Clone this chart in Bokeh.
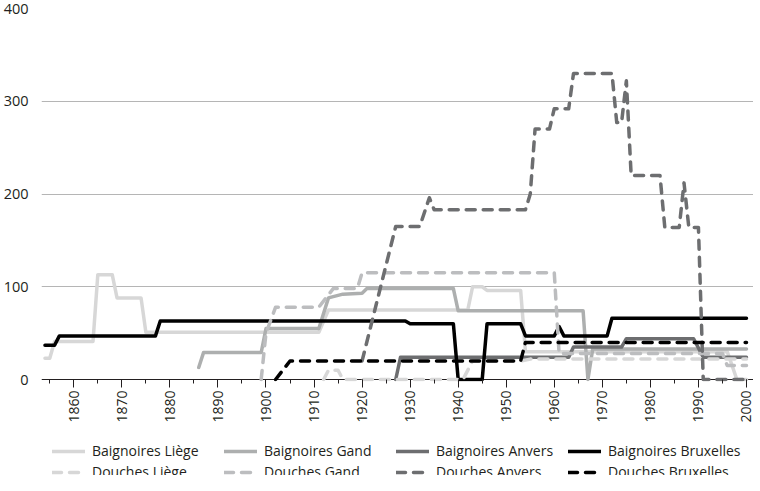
import math
from bokeh.plotting import figure
from bokeh.layouts import column
from bokeh.models import Legend, LegendItem, FixedTicker, Span, Range1d
from bokeh.embed import file_html
from bokeh.resources import INLINE

# ---------------- data (year, value) breakpoints ----------------
bl_year = [1854, 1855, 1856, 1864, 1865, 1868, 1869, 1874, 1875, 1911, 1913, 1942, 1943, 1945, 1946, 1953, 1954, 1996, 1998, 2000]
bl_val  = [23, 23, 41, 41, 113, 113, 88, 88, 51, 51, 75, 75, 100, 100, 96, 96, 30, 30, 0, 0]

bg_year = [1886, 1887, 1899, 1900, 1911, 1913, 1916, 1920, 1921, 1939, 1940, 1966, 1967, 1968, 2000]
bg_val  = [13, 29, 29, 55, 55, 88, 92, 93, 98, 98, 74, 74, 0, 33, 33]

ba_year = [1927, 1928, 1963, 1964, 1974, 1975, 1989, 1991, 2000]
ba_val  = [0, 24, 24, 35, 35, 44, 44, 24, 24]

bb_year = [1854, 1856, 1857, 1877, 1878, 1929, 1930, 1939, 1940, 1945, 1946, 1953, 1954, 1960, 1961, 1962, 1971, 1972, 2000]
bb_val  = [37, 37, 47, 47, 63, 63, 60, 60, 0, 0, 60, 60, 47, 47, 57, 47, 47, 66, 66]

dl_year = [1912, 1913, 1915, 1916, 1941, 1943, 1953, 1955, 2000]
dl_val  = [0, 10, 10, 0, 0, 20, 20, 22, 22]

dg_year = [1899, 1900, 1902, 1911, 1914, 1919, 1920, 1960, 1961, 1995, 1996, 2000]
dg_val  = [0, 50, 78, 78, 98, 98, 115, 115, 28, 28, 15, 15]

da_year = [1920, 1927, 1932, 1934, 1935, 1954, 1955, 1956, 1959, 1960, 1963, 1964, 1972, 1973, 1974, 1975, 1976, 1982, 1983, 1986, 1987, 1988, 1990, 1991, 2000]
da_val  = [20, 165, 165, 196, 183, 183, 200, 270, 270, 292, 292, 330, 330, 277, 277, 322, 220, 220, 164, 164, 212, 164, 164, 0, 0]

db_year = [1902, 1905, 1953, 1954, 2000]
db_val  = [0, 20, 20, 40, 40]

tick_years = list(range(1860, 2001, 10))
minor_years = list(range(1855, 2001, 5))
y_ticks = [0, 100, 200, 300, 400]

labels = ["Baignoires Liège", "Baignoires Gand", "Baignoires Anvers", "Baignoires Bruxelles",
          "Douches Liège", "Douches Gand", "Douches Anvers", "Douches Bruxelles"]

# ---------------- main figure ----------------
FONT = "Open Sans"
TXT = "#231f20"

p = figure(frame_width=712, frame_height=373, output_backend="svg", toolbar_location=None,
           x_range=Range1d(1853.28, 2001.46), y_range=Range1d(-2.156, 400.0),
           min_border_left=32, min_border_right=0, min_border_top=8, min_border_bottom=44)
p.outline_line_color = None
p.background_fill_color = "white"
p.border_fill_color = "white"

p.xgrid.visible = False
p.ygrid.ticker = FixedTicker(ticks=[100, 200, 300, 400])
p.ygrid.grid_line_color = "#b5b5b5"
p.ygrid.grid_line_width = 1

p.xaxis.ticker = FixedTicker(ticks=tick_years, minor_ticks=minor_years)
p.xaxis.axis_line_color = None
p.xaxis.major_tick_in = 2
p.xaxis.major_tick_out = 6
p.xaxis.minor_tick_in = 2
p.xaxis.minor_tick_out = 2
p.xaxis.major_tick_line_color = TXT
p.xaxis.minor_tick_line_color = TXT
p.xaxis.major_label_orientation = math.pi / 2
p.xaxis.major_label_standoff = 3
p.xaxis.major_label_text_font = FONT
p.xaxis.major_label_text_font_size = "14px"
p.xaxis.major_label_text_color = TXT

p.yaxis.ticker = FixedTicker(ticks=y_ticks)
p.yaxis.axis_line_color = None
p.yaxis.major_tick_line_color = None
p.yaxis.minor_tick_line_color = None
p.yaxis.major_label_standoff = 7
p.yaxis.major_label_text_font = FONT
p.yaxis.major_label_text_font_size = "14.5px"
p.yaxis.major_label_text_color = TXT

zero = Span(location=0, dimension="width", line_color=TXT, line_width=1.2, level="underlay")
p.add_layout(zero)

LW = 3.5
DASH = "9 8"
specs = [
    (bl_year, bl_val, "#d7d7d7", "solid"),
    (bg_year, bg_val, "#adafaf", "solid"),
    (ba_year, ba_val, "#6d6e70", "solid"),
    (bb_year, bb_val, "#000000", "solid"),
    (dl_year, dl_val, "#d7d7d7", DASH),
    (dg_year, dg_val, "#bcbdbf", DASH),
    (da_year, da_val, "#6d6e70", DASH),
    (db_year, db_val, "#000000", DASH),
]
for xs, ys, col, dash in specs:
    p.line(xs, ys, line_color=col, line_width=LW, line_dash=dash,
           line_cap="round", line_join="round")

# ---------------- legend strip (separate small figure, no axes) ----------------
leg = figure(width=744, height=50, output_backend="svg", toolbar_location=None,
             x_range=Range1d(0, 1), y_range=Range1d(0, 1), min_border=0,
             x_axis_type=None, y_axis_type=None)
leg.grid.visible = False
leg.outline_line_color = None
leg.background_fill_color = "white"
leg.border_fill_color = "white"

# same series, drawn outside this strip's ranges (only their legend keys show)
leg_renderers = []
for xs, ys, col, dash in specs:
    r = leg.line(xs, ys, line_color=col, line_width=LW, line_dash=dash,
                 line_cap="round", line_join="round")
    leg_renderers.append(r)

items = [LegendItem(label=lab, renderers=[r]) for lab, r in zip(labels, leg_renderers)]
legend = Legend(items=items, orientation="horizontal", ncols=4, location=(11, -6),
                label_text_font=FONT, label_text_font_size="14px", label_text_color=TXT,
                label_text_line_height=1.0,
                glyph_width=33, glyph_height=14, label_standoff=7, label_height=14,
                label_width=130, spacing=2, padding=0, margin=0,
                border_line_alpha=0, background_fill_alpha=0)
leg.add_layout(legend, "center")

layout = column(p, leg, spacing=0)
open("out.html", "w").write(file_html(layout, INLINE))
